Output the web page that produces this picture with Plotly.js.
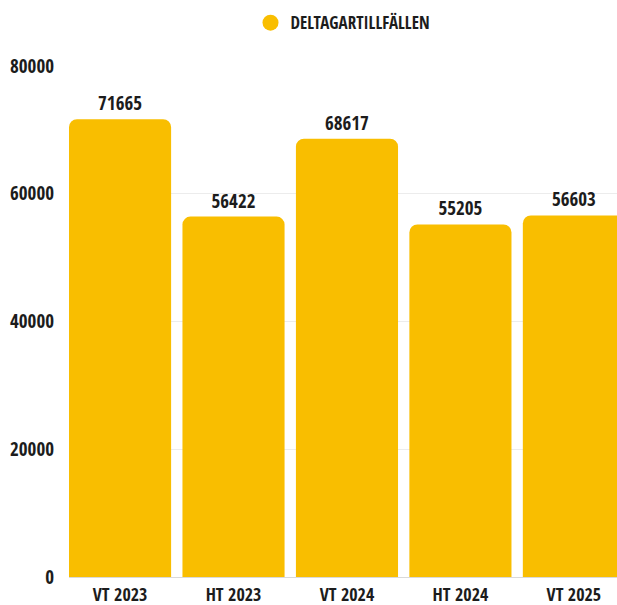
<!DOCTYPE html>
<html>
<head>
<meta charset="utf-8">
<script src="https://cdn.plot.ly/plotly-3.0.1.min.js"></script>
<style>html,body{margin:0;padding:0;background:#fff;}#chart{width:617px;height:605px;}</style>
</head>
<body>
<div id="chart"></div>
<script>
const categories = ["VT 2023", "HT 2023", "VT 2024", "HT 2024", "VT 2025"];
const values = [71665, 56422, 68617, 55205, 56603];
const seriesName = "DELTAGARTILLFÄLLEN";
const yTicks = [0, 20000, 40000, 60000, 80000];

const FONT = "Open Sans Condensed, Roboto Condensed, sans-serif";
const YELLOW = "#F9BE00";
const INK = "#1c1c1c";

const bar = {
  type: "bar",
  x: categories,
  y: values,
  marker: { color: YELLOW },
  text: values.map(String),
  texttemplate: "%{text}",
  textposition: "outside",
  cliponaxis: false,
  textfont: { family: FONT, size: 19, color: INK, weight: "bold" },
  showlegend: false,
  hoverinfo: "x+y"
};
const legendItem = {
  type: "scatter",
  mode: "markers",
  x: [null],
  y: [null],
  name: seriesName,
  marker: { color: YELLOW, size: 16, symbol: "circle" },
  showlegend: true
};

const layout = {
  width: 617,
  height: 605,
  margin: { l: 69, r: 0, t: 66, b: 28 },
  paper_bgcolor: "#ffffff",
  plot_bgcolor: "#ffffff",
  bargap: 0.1,
  barcornerradius: 8,
  font: { family: FONT, color: INK, weight: "bold" },
  showlegend: true,
  legend: {
    orientation: "h",
    x: 0.5, xanchor: "center",
    y: 1.084, yanchor: "middle",
    font: { family: FONT, size: 17, color: INK, weight: "bold" },
    itemwidth: 30
  },
  xaxis: {
    type: "category",
    range: [-0.45, 4.38],
    showgrid: false,
    showline: true,
    linecolor: "#d9d9d9",
    linewidth: 1,
    ticks: "",
    ticklabelstandoff: 1,
    tickfont: { family: FONT, size: 18, color: INK, weight: "bold" },
    fixedrange: true
  },
  yaxis: {
    range: [0, 80000],
    tickvals: yTicks,
    ticktext: yTicks.map(String),
    showgrid: true,
    gridcolor: "#ececec",
    gridwidth: 1,
    zeroline: false,
    ticks: "",
    ticklabelstandoff: 14,
    tickfont: { family: FONT, size: 19, color: INK, weight: "bold" },
    fixedrange: true
  }
};

Plotly.newPlot("chart", [bar, legendItem], layout, { displayModeBar: false, staticPlot: true });
</script>
</body>
</html>
